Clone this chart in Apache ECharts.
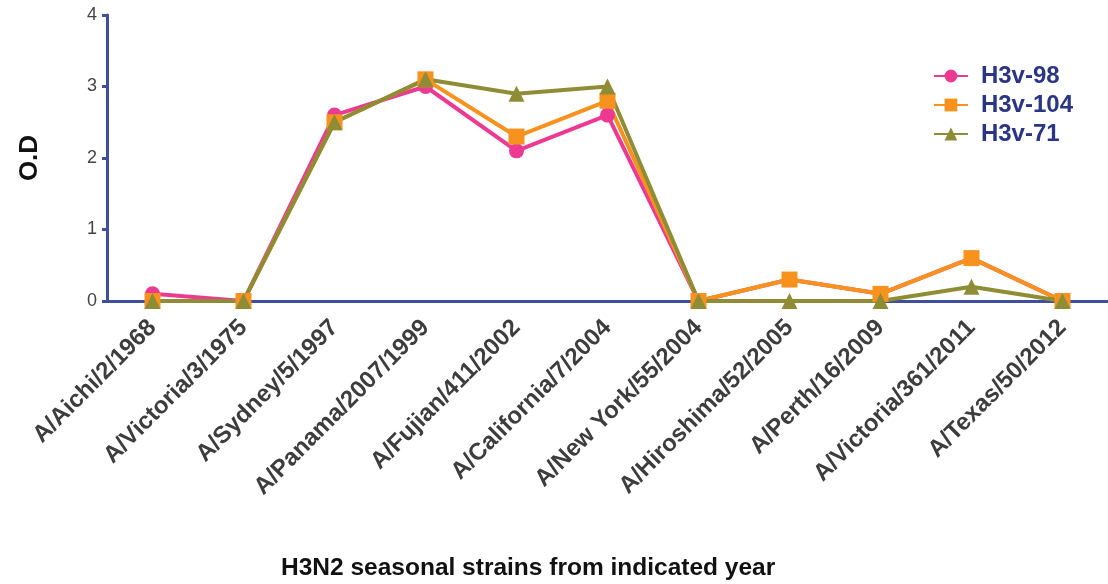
<!DOCTYPE html>
<html>
<head>
<meta charset="utf-8">
<script src="https://cdn.jsdelivr.net/npm/echarts@6/dist/echarts.min.js"></script>
<style>html,body{margin:0;padding:0;background:#fff}#c{width:1108px;height:584px}</style>
</head>
<body>
<div id="c"></div>
<script>
const categories = ['A/Aichi/2/1968','A/Victoria/3/1975','A/Sydney/5/1997','A/Panama/2007/1999','A/Fujian/411/2002','A/California/7/2004','A/New York/55/2004','A/Hiroshima/52/2005','A/Perth/16/2009','A/Victoria/361/2011','A/Texas/50/2012'];
const h3v98 = [0.1, 0, 2.6, 3.0, 2.1, 2.6, 0, 0.3, 0.1, 0.6, 0];
const h3v104 = [0, 0, 2.5, 3.1, 2.3, 2.8, 0, 0.3, 0.1, 0.6, 0];
const h3v71 = [0, 0, 2.5, 3.1, 2.9, 3.0, 0, 0, 0, 0.2, 0];
const yTicks = [0, 1, 2, 3, 4];

const axisColor = '#3f4f9b';
const chart = echarts.init(document.getElementById('c'));
chart.setOption({
  animation: false,
  title: {
    text: 'H3N2 seasonal strains from indicated year',
    left: 276, top: 551,
    textStyle: {fontFamily: 'Liberation Sans', fontWeight: 'bold', fontSize: 24.5, color: '#111'}
  },
  legend: {
    right: 30, top: 59, orient: 'vertical', itemGap: 5, itemWidth: 34, itemHeight: 16,
    textStyle: {fontFamily: 'Liberation Sans', fontWeight: 'bold', fontSize: 24, color: '#2b3585', padding: [0, 0, 0, 8]},
    data: ['H3v-98', 'H3v-104', 'H3v-71']
  },
  grid: {left: 107, top: 15, width: 1012, height: 286, containLabel: false},
  xAxis: {
    type: 'category', data: categories, boundaryGap: true,
    axisLine: {lineStyle: {color: axisColor, width: 3}},
    axisTick: {alignWithLabel: true, length: 6, lineStyle: {color: axisColor, width: 3}},
    axisLabel: {rotate: 45, interval: 0, margin: 23, fontFamily: 'Liberation Sans', fontWeight: 'bold', fontSize: 24, color: '#3d3d3d'}
  },
  yAxis: {
    type: 'value', min: 0, max: 4, interval: 1,
    name: 'O.D', nameLocation: 'middle', nameGap: 64, nameRotate: 90,
    nameTextStyle: {fontFamily: 'Liberation Sans', fontWeight: 'bold', fontSize: 26, color: '#111'},
    axisLine: {show: true, lineStyle: {color: axisColor, width: 3}},
    axisTick: {show: true, length: 5, lineStyle: {color: axisColor, width: 3}},
    splitLine: {show: false},
    axisLabel: {formatter: v => yTicks.includes(v) ? String(v) : '', margin: 10, fontFamily: 'Liberation Sans', fontSize: 18, color: '#444'}
  },
  series: [
    {name: 'H3v-98', type: 'line', data: h3v98, symbol: 'circle', symbolSize: 15,
     itemStyle: {color: '#ec3a93'}, lineStyle: {width: 4, color: '#ec3a93'}},
    {name: 'H3v-104', type: 'line', data: h3v104, symbol: 'rect', symbolSize: 16,
     itemStyle: {color: '#f7921e'}, lineStyle: {width: 4, color: '#f7921e'}},
    {name: 'H3v-71', type: 'line', data: h3v71, symbol: 'triangle', symbolSize: 16,
     itemStyle: {color: '#8e8d35'}, lineStyle: {width: 4, color: '#8e8d35'}}
  ]
});
</script>
</body>
</html>
